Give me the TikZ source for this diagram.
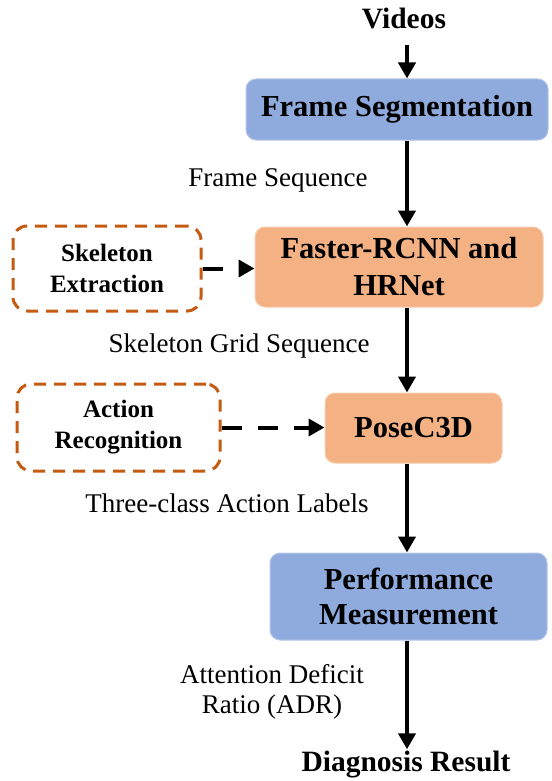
\documentclass[tikz,border=0pt]{standalone}
\usepackage{fontspec}
\setmainfont{Liberation Serif}
\usetikzlibrary{arrows.meta, positioning}
\definecolor{myblue}{RGB}{143,170,220}
\definecolor{mybluebdr}{RGB}{180,199,231}
\definecolor{myorange}{RGB}{244,177,131}
\definecolor{myorangebdr}{RGB}{248,203,173}
\definecolor{mybrown}{RGB}{197,90,17}
\tikzset{
  bluebox/.style={rectangle, draw=mybluebdr, fill=myblue, align=center,
    font=\fontsize{30.5}{35}\selectfont\bfseries, rounded corners=10pt,
    line width=1pt, inner sep=0pt},
  orangebox/.style={rectangle, draw=myorangebdr, fill=myorange, align=center,
    font=\fontsize{30.5}{37}\selectfont\bfseries, rounded corners=10pt,
    line width=1pt, inner sep=0pt},
  dashbox/.style={rectangle, draw=mybrown, fill=white, align=center,
    font=\fontsize{25}{31}\selectfont\bfseries, rounded corners=14pt,
    line width=3pt, dash pattern=on 12pt off 8pt, inner sep=0pt},
  endtext/.style={font=\fontsize{29.5}{35}\selectfont\bfseries, inner sep=2pt},
  lbl/.style={font=\fontsize{27}{30}\selectfont, align=center, inner sep=0pt},
  arrow/.style={-{Triangle[width=17pt,length=16pt]}, line width=4pt, color=black},
  dasharrow/.style={-{Triangle[width=17pt,length=16pt]}, line width=4pt, color=black,
    dash pattern=on 20pt off 16pt}
}
\begin{document}
\begin{tikzpicture}[x=1pt, y={(0pt,-1pt)}]
  \useasboundingbox (0,0) rectangle (551,781);

  % Main column
  \node[endtext] (videos) at (404,18) {Videos};
  \node[bluebox, minimum width=302pt, minimum height=61pt] (frameseg) at (397,109.5) {Frame Segmentation};
  \node[orangebox, minimum width=288pt, minimum height=80pt] (faster) at (399,267) {Faster-RCNN and\\HRNet};
  \node[orangebox, minimum width=177pt, minimum height=70pt] (posec3d) at (413.5,428) {PoseC3D};
  \node[bluebox, minimum width=277pt, minimum height=87pt] (perf) at (408.5,596.5) {Performance\\Measurement};
  \node[endtext] (diag) at (406,765) {Diagnosis Result};
  \coordinate (spine) at (407,0);

  % Side Modules
  \node[dashbox, minimum width=188pt, minimum height=85pt] (skel) at (107,268.5) {Skeleton\\Extraction};
  \node[dashbox, minimum width=203pt, minimum height=87pt] (action) at (118.5,427.5) {Action\\Recognition};

  % Labels
  \node[lbl] (lblframe) at (278,180) {Frame Sequence};
  \node[lbl] (lblgrid) at (239,346) {Skeleton Grid Sequence};
  \node[lbl] (lblaction) at (227,503) {Three-class Action Labels};
  \node[lbl] (lbladr) at (272,692) {Attention Deficit\\Ratio (ADR)};

  % Arrows
  \draw[arrow, shorten <=14pt] (videos.south -| spine) -- (frameseg.north -| spine);
  \draw[arrow] (frameseg.south -| spine) -- (faster.north -| spine);
  \draw[arrow] (faster.south -| spine) -- (posec3d.north -| spine);
  \draw[arrow] (posec3d.south -| spine) -- (perf.north -| spine);
  \draw[arrow] (perf.south -| spine) -- (diag.north -| spine);
  \draw[dasharrow] (skel.east) -- (skel.east -| faster.west);
  \draw[dasharrow] (action.east) -- (action.east -| posec3d.west);
\end{tikzpicture}
\end{document}
